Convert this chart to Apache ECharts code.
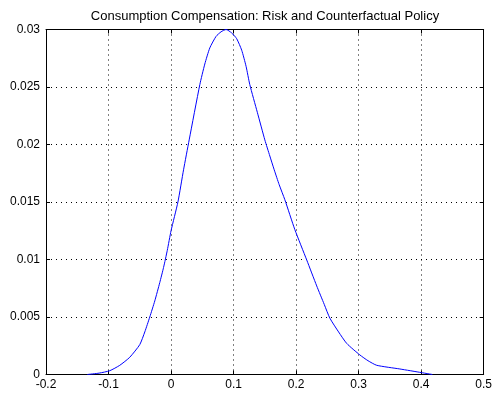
<!DOCTYPE html>
<html><head><meta charset="utf-8">
<script src="https://cdn.jsdelivr.net/npm/echarts@6/dist/echarts.min.js"></script>
<style>html,body{margin:0;padding:0;background:#fff}#c{width:495px;height:395px}</style>
</head><body><div id="c"></div>
<script>
var titleText = "Consumption Compensation: Risk and Counterfactual Policy";
var xTicks = [-0.2, -0.1, 0, 0.1, 0.2, 0.3, 0.4, 0.5];
var yTicks = [0, 0.005, 0.01, 0.015, 0.02, 0.025, 0.03];
var xVals = [-0.134, -0.115, -0.098, -0.082, -0.066, -0.05, -0.042, -0.034, -0.026, -0.018, -0.012, -0.006, 0.0, 0.011, 0.020, 0.029, 0.046, 0.054, 0.062, 0.072, 0.080, 0.088, 0.097, 0.105, 0.113, 0.120, 0.126, 0.138, 0.150, 0.158, 0.165, 0.173, 0.182, 0.198, 0.217, 0.233, 0.245, 0.254, 0.268, 0.281, 0.302, 0.315, 0.329, 0.366, 0.401, 0.418];
var yVals = [0, 0.00012, 0.00033, 0.0008, 0.0015, 0.0026, 0.0037, 0.005, 0.0064, 0.008, 0.0093, 0.0108, 0.0125, 0.015, 0.0178, 0.0204, 0.0252, 0.0270, 0.0284, 0.0294, 0.0298, 0.0300, 0.0297, 0.0292, 0.0282, 0.0268, 0.0252, 0.0228, 0.0204, 0.0190, 0.0178, 0.0165, 0.0152, 0.0126, 0.00996, 0.0077, 0.0061, 0.0049, 0.0037, 0.0027, 0.0017, 0.0012, 0.0008, 0.00048, 0.00016, 0];

var data = xVals.map(function(x, i){ return [x, yVals[i]]; });
var fmt = function(v){ return String(parseFloat(v.toFixed(4))); };
var font = "Liberation Sans";
var chart = echarts.init(document.getElementById('c'));
var gridLine = {show:true, lineStyle:{color:'#000', type:[1,4], width:1}};
chart.setOption({
  animation:false,
  title:{text:titleText, left:260, top:5, textAlign:'center', textStyle:{fontFamily:font, fontSize:13, fontWeight:'normal', color:'#000'}},
  grid:{left:46, right:11, top:29.5, bottom:20.5, containLabel:false},
  xAxis:[
    {type:'value', min:xTicks[0], max:xTicks[xTicks.length-1], interval:0.1, position:'bottom',
     axisLine:{show:true, onZero:false, lineStyle:{color:'#000', width:1}},
     axisTick:{show:true, inside:true, length:4, lineStyle:{color:'#000'}},
     axisLabel:{formatter:fmt, color:'#000', fontFamily:font, fontSize:12, margin:4},
     splitLine:gridLine},
    {type:'value', min:xTicks[0], max:xTicks[xTicks.length-1], interval:0.1, position:'top',
     axisLine:{show:true, onZero:false, lineStyle:{color:'#000', width:1}},
     axisTick:{show:true, inside:true, length:4, lineStyle:{color:'#000'}},
     axisLabel:{show:false}, splitLine:{show:false}}
  ],
  yAxis:[
    {type:'value', min:yTicks[0], max:yTicks[yTicks.length-1], interval:0.005, position:'left',
     axisLine:{show:true, onZero:false, lineStyle:{color:'#000', width:1}},
     axisTick:{show:true, inside:true, length:4, lineStyle:{color:'#000'}},
     axisLabel:{formatter:fmt, color:'#000', fontFamily:font, fontSize:12, margin:6},
     splitLine:gridLine},
    {type:'value', min:yTicks[0], max:yTicks[yTicks.length-1], interval:0.005, position:'right',
     axisLine:{show:true, onZero:false, lineStyle:{color:'#000', width:1}},
     axisTick:{show:true, inside:true, length:4, lineStyle:{color:'#000'}},
     axisLabel:{show:false}, splitLine:{show:false}}
  ],
  series:[{type:'line', data:data, showSymbol:false, symbol:'none', smooth:0.2,
    lineStyle:{color:'#0000ff', width:1}, xAxisIndex:0, yAxisIndex:0}]
});
</script></body></html>
